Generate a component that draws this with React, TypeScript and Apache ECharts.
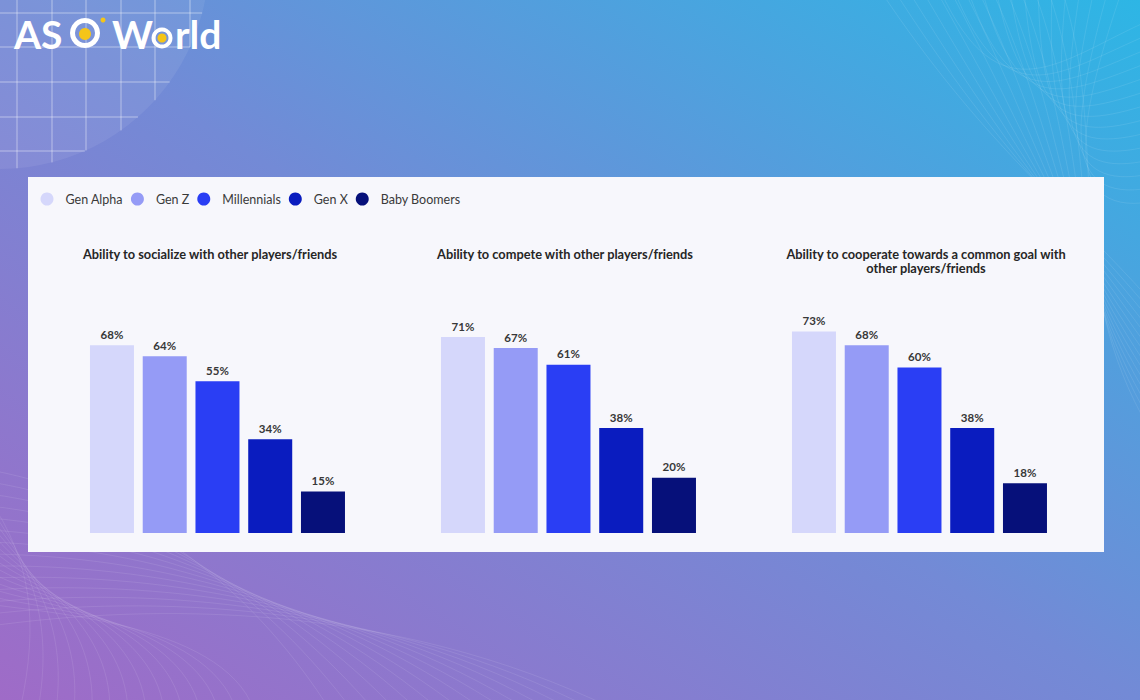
import React, { useEffect, useRef } from 'react';
import * as echarts from 'echarts';

const generations = ['Gen Alpha', 'Gen Z', 'Millennials', 'Gen X', 'Baby Boomers'];
const genColors = ['#d5d7fb', '#959bf6', '#2a3ef4', '#0a1cbf', '#06107a'];
const chartTitles = [
  'Ability to socialize with other players/friends',
  'Ability to compete with other players/friends',
  'Ability to cooperate towards a common goal with\nother players/friends',
];
const socializeValues = [68, 64, 55, 34, 15];
const competeValues = [71, 67, 61, 38, 20];
const cooperateValues = [73, 68, 60, 38, 18];
const allValues = [socializeValues, competeValues, cooperateValues];

const FONT = 'Lato, "Noto Sans", sans-serif';

export default function App() {
  const ref = useRef<HTMLDivElement>(null);
  useEffect(() => {
    document.body.style.margin = '0';
    const chart = echarts.init(ref.current!, null, { renderer: 'svg' });

    const gridLefts = [85.6, 436.6, 787.6];
    const gridWidth = 263.75;
    const titleCenters = [210, 565, 926];

    const grids = gridLefts.map((l) => ({ left: l, width: gridWidth, top: 257, height: 276 }));
    const xAxes = gridLefts.map((_, g) => ({
      type: 'category',
      gridIndex: g,
      data: generations,
      show: false,
    }));
    const yAxes = gridLefts.map((_, g) => ({
      type: 'value',
      gridIndex: g,
      min: 0,
      max: 100,
      show: false,
      splitLine: { show: false },
    }));

    const series: any[] = [];
    allValues.forEach((vals, g) => {
      generations.forEach((name, i) => {
        series.push({
          type: 'bar',
          name,
          xAxisIndex: g,
          yAxisIndex: g,
          stack: 's' + g,
          barWidth: 44,
          itemStyle: { color: genColors[i] },
          label: {
            show: true,
            position: 'top',
            formatter: '{c}%',
            fontSize: 11.5,
            fontWeight: 'bold',
            color: '#383838',
            fontFamily: FONT,
          },
          data: vals.map((v, j) => (j === i ? v : '-')),
        });
      });
    });

    // decorative grid in top-left circle
    const R = 209;
    const cy = -40;
    const deco: any[] = [];
    [17, 52, 86, 121, 155, 190].forEach((x) => {
      if (x < R) {
        const yEnd = cy + Math.sqrt(R * R - x * x);
        deco.push({
          type: 'line',
          z: -8,
          shape: { x1: x, y1: 0, x2: x, y2: yEnd },
          style: { stroke: 'rgba(255,255,255,0.45)', lineWidth: 1 },
        });
      }
    });
    [13, 47, 82, 117, 151].forEach((y) => {
      const d = y - cy;
      if (Math.abs(d) < R) {
        const xEnd = Math.sqrt(R * R - d * d);
        deco.push({
          type: 'line',
          z: -8,
          shape: { x1: 0, y1: y, x2: xEnd, y2: y },
          style: { stroke: 'rgba(255,255,255,0.45)', lineWidth: 1 },
        });
      }
    });

    // faint mesh waves (decoration)
    const mesh: any[] = [];
    const meshStyle = { stroke: 'rgba(255,255,255,0.09)', lineWidth: 1, fill: 'none' };
    for (let k = 0; k < 14; k++) {
      mesh.push({
        type: 'bezierCurve',
        z: -9,
        shape: { x1: 880 + k * 14, y1: -10, cpx1: 980 + k * 10, cpy1: 140, cpx2: 1060, cpy2: 200 + k * 6, x2: 1150, y2: 300 + k * 10 },
        style: meshStyle,
      });
      mesh.push({
        type: 'bezierCurve',
        z: -9,
        shape: { x1: 1150, y1: 20 + k * 14, cpx1: 1060, cpy1: 60 + k * 12, cpx2: 1000 + k * 6, cpy2: 120, x2: 940 + k * 14, y2: -10 },
        style: meshStyle,
      });
      mesh.push({
        type: 'bezierCurve',
        z: -9,
        shape: { x1: -10, y1: 470 + k * 12, cpx1: 150, cpy1: 500 + k * 8, cpx2: 260 + k * 10, cpy2: 600, x2: 330 + k * 22, y2: 710 },
        style: meshStyle,
      });
      mesh.push({
        type: 'bezierCurve',
        z: -9,
        shape: { x1: 20 + k * 18, y1: 710, cpx1: 40 + k * 14, cpy1: 620, cpx2: 30, cpy2: 560 + k * 4, x2: -10, y2: 500 + k * 8 },
        style: meshStyle,
      });
    }

    const titles = chartTitles.map((t, g) => ({
      type: 'text',
      x: titleCenters[g],
      y: g === 2 ? 261 : 254,
      style: {
        text: t,
        textAlign: 'center',
        textVerticalAlign: 'middle',
        fontSize: 12.8,
        fontWeight: 'bold',
        fontFamily: FONT,
        fill: '#262626',
        lineHeight: 14,
      },
    }));

    const logoFont = { fontSize: 39, fontWeight: 'bold', fontFamily: FONT, fill: '#ffffff' };
    const logo: any[] = [
      { type: 'text', x: 14, y: 34, style: { ...logoFont, text: 'AS', textVerticalAlign: 'middle' } },
      { type: 'ring', shape: { cx: 85, cy: 33, r: 15, r0: 10 }, style: { fill: '#ffffff' } },
      { type: 'circle', shape: { cx: 85, cy: 34, r: 6 }, style: { fill: '#f5c518' } },
      { type: 'circle', shape: { cx: 103, cy: 20, r: 2.5 }, style: { fill: '#f5c518' } },
      { type: 'text', x: 112, y: 34, style: { ...logoFont, text: 'W', textVerticalAlign: 'middle' } },
      { type: 'ring', shape: { cx: 162, cy: 38, r: 10.5, r0: 6.5 }, style: { fill: '#ffffff' } },
      { type: 'circle', shape: { cx: 162, cy: 38, r: 4.5 }, style: { fill: '#f5c518' } },
      { type: 'text', x: 175, y: 34, style: { ...logoFont, text: 'rld', textVerticalAlign: 'middle' } },
    ];

    chart.setOption({
      animation: false,
      graphic: [
        {
          type: 'rect',
          z: -10,
          shape: { x: 0, y: 0, width: 1140, height: 700 },
          style: {
            fill: new echarts.graphic.LinearGradient(0, 1, 1, 0, [
              { offset: 0, color: '#9f6bc7' },
              { offset: 0.5, color: '#738ad6' },
              { offset: 1, color: '#2db6e5' },
            ]),
          },
        },
        ...mesh,
        {
          type: 'circle',
          z: -9,
          shape: { cx: 0, cy: cy, r: R },
          style: { fill: 'rgba(255,255,255,0.07)' },
        },
        ...deco,
        {
          type: 'rect',
          z: -5,
          shape: { x: 28, y: 177, width: 1076, height: 375 },
          style: { fill: '#f7f7fc' },
        },
        ...titles,
        ...logo,
      ],
      legend: {
        data: generations,
        left: 40.5,
        top: 192.5,
        padding: 0,
        icon: 'circle',
        itemWidth: 27,
        itemHeight: 13,
        itemGap: 8,
        textStyle: { fontSize: 12.5, color: '#3a3a3a', fontFamily: FONT },
        selectedMode: false,
      },
      grid: grids,
      xAxis: xAxes,
      yAxis: yAxes,
      series,
    });
    return () => chart.dispose();
  }, []);
  return <div ref={ref} style={{ width: 1140, height: 700 }} />;
}
